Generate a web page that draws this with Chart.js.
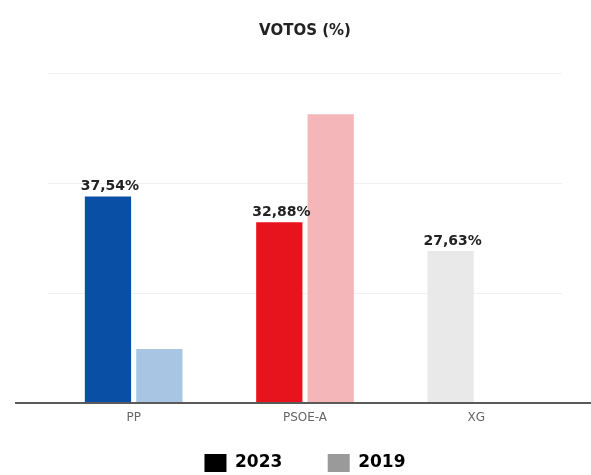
<!DOCTYPE html>
<html>
<head>
<meta charset="utf-8">
<script src="https://cdn.jsdelivr.net/npm/chart.js@4.4.0/dist/chart.umd.min.js"></script>
<style>
  body { margin: 0; background: #fff; }
  #wrap { width: 591px; height: 475px; position: relative; }
</style>
</head>
<body>
<div id="wrap"><canvas id="votosChart"></canvas></div>
<script>
// data
const categories = ['PP', 'PSOE-A', 'XG'];
const votos2023 = [37.54, 32.88, 27.63];
const votos2019 = [9.8, 52.5, 0];
const labels2023 = ['37,54%', '32,88%', '27,63%'];
const yTicks = [0, 20, 40, 60];

const colors2023 = ['#0a4fa6', '#e8141d', '#e9e9e9'];
const colors2019 = ['#a8c5e4', '#f5b6ba', '#e9e9e9'];

// value labels over the 2023 bars
const valueLabels = {
    id: 'valueLabels',
    afterDatasetsDraw(chart) {
        const ctx = chart.ctx;
        const meta = chart.getDatasetMeta(0);
        ctx.save();
        ctx.font = 'bold 14px "DejaVu Sans"';
        ctx.fillStyle = '#222';
        ctx.textAlign = 'center';
        ctx.textBaseline = 'bottom';
        meta.data.forEach((bar, i) => {
            ctx.fillText(labels2023[i], bar.x + 2, bar.y - 3);
        });
        ctx.restore();
    }
};

// base line running across the whole width
const baseLine = {
    id: 'baseLine',
    afterDatasetsDraw(chart) {
        const ctx = chart.ctx;
        const y = chart.scales.y.getPixelForValue(0);
        ctx.save();
        ctx.strokeStyle = '#5a5a5a';
        ctx.lineWidth = 2;
        ctx.beginPath();
        ctx.moveTo(15, y);
        ctx.lineTo(chart.width, y);
        ctx.stroke();
        ctx.restore();
    }
};

const ctx = document.getElementById('votosChart').getContext('2d');

new Chart(ctx, {
    type: 'bar',
    data: {
        labels: categories,
        datasets: [
            {
                label: '2023',
                data: votos2023,
                backgroundColor: colors2023
            },
            {
                label: '2019',
                data: votos2019,
                backgroundColor: colors2019
            }
        ]
    },
    options: {
        responsive: true,
        maintainAspectRatio: false,
        animation: false,
        categoryPercentage: 0.6,
        barPercentage: 0.9,
        layout: { padding: { left: 48, right: 29, top: 0, bottom: -7 } },
        scales: {
            x: {
                grid: { display: false },
                border: { display: false },
                ticks: {
                    color: '#666',
                    font: { family: '"DejaVu Sans"', size: 12 },
                    padding: 0
                },
                afterFit: (axis) => { axis.height = 47; }
            },
            y: {
                min: yTicks[0],
                max: yTicks[yTicks.length - 1],
                afterBuildTicks: (axis) => {
                    axis.ticks = yTicks.map(v => ({ value: v }));
                },
                grid: { color: '#f1f1f1', drawTicks: false },
                border: { display: false },
                ticks: { display: false }
            }
        },
        plugins: {
            title: {
                display: true,
                text: 'VOTOS (%)',
                color: '#222',
                font: { family: '"DejaVu Sans"', size: 15, weight: 'bold' },
                padding: { top: 22, bottom: 33 }
            },
            legend: {
                position: 'bottom',
                labels: {
                    boxWidth: 22,
                    boxHeight: 18,
                    padding: 4,
                    color: '#222',
                    font: { family: '"DejaVu Sans"', size: 17, weight: 'bold' },
                    generateLabels: () => [
                        { text: '2023       ', fillStyle: '#000', strokeStyle: '#000', lineWidth: 0, datasetIndex: 0 },
                        { text: '2019', fillStyle: '#9a9a9a', strokeStyle: '#9a9a9a', lineWidth: 0, datasetIndex: 1 }
                    ]
                }
            },
            tooltip: { enabled: false }
        }
    },
    plugins: [valueLabels, baseLine]
});
</script>
</body>
</html>
